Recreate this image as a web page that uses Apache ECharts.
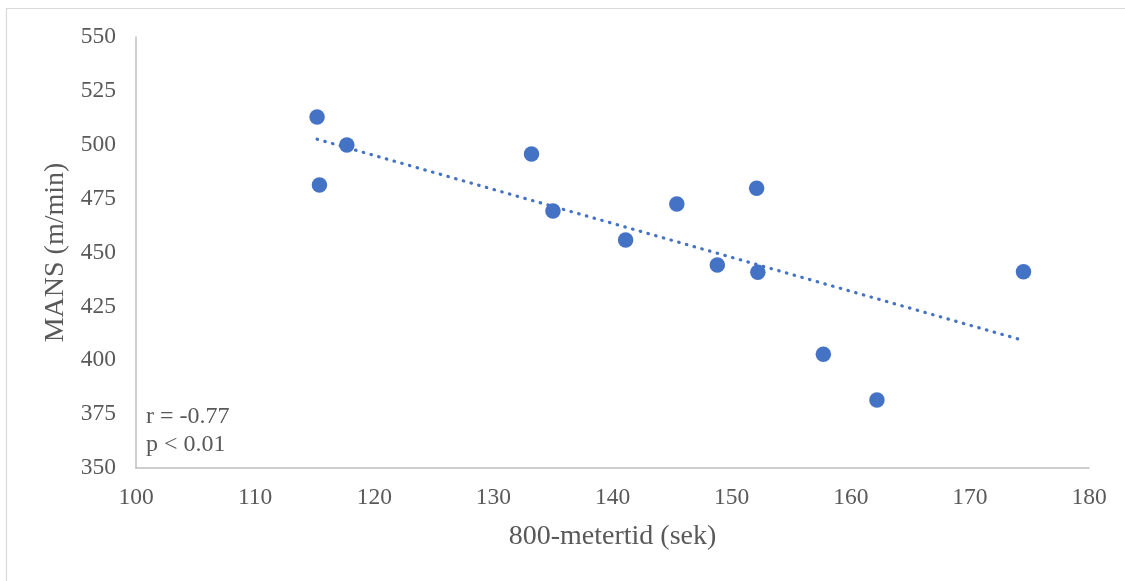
<!DOCTYPE html>
<html>
<head>
<meta charset="utf-8">
<script src="https://cdn.jsdelivr.net/npm/echarts@6/dist/echarts.min.js"></script>
<style>
  html, body { margin: 0; padding: 0; background: #fff; }
  #chart { width: 1125px; height: 581px; }
</style>
</head>
<body>
<div id="chart"></div>
<script>
// 800 m time (s) vs MANS (m/min)
const tid = [115.2, 117.7, 115.4, 133.2, 135.0, 141.1, 145.4, 148.8, 152.1, 152.2, 157.7, 162.2, 174.5];
const mans = [512.9, 499.9, 481.3, 495.7, 469.3, 455.8, 472.5, 444.2, 479.8, 440.8, 402.8, 381.6, 441.1];
const statsText = ["r = -0.77", "p < 0.01"];

const points = tid.map((x, i) => [x, mans[i]]);

// linear trendline (least squares), drawn across the data range
const n = tid.length;
const mx = tid.reduce((a, b) => a + b, 0) / n;
const my = mans.reduce((a, b) => a + b, 0) / n;
let sxy = 0, sxx = 0;
for (let i = 0; i < n; i++) {
  sxy += (tid[i] - mx) * (mans[i] - my);
  sxx += (tid[i] - mx) * (tid[i] - mx);
}
const slope = sxy / sxx;
const icpt = my - slope * mx;
const xMin = Math.min(...tid), xMax = Math.max(...tid);
const trend = [[xMin, icpt + slope * xMin], [xMax, icpt + slope * xMax]];

const chart = echarts.init(document.getElementById("chart"));
const font = "'Liberation Serif', 'Times New Roman', serif";

const option = {
  animation: false,
  backgroundColor: "#fff",
  grid: { left: 136, right: 36, top: 37, bottom: 113 },
  graphic: [
    {
      type: "polyline",
      shape: { points: [[6.5, 600], [6.5, 8.5], [1130, 8.5]] },
      style: { fill: null, stroke: "#d9d9d9", lineWidth: 1.2 }
    },
    {
      type: "text",
      left: 146,
      top: 402,
      style: {
        text: statsText.join("\n"),
        font: "24px " + font,
        lineHeight: 28.5,
        fill: "#595959"
      }
    }
  ],
  xAxis: {
    type: "value",
    min: 100,
    max: 180,
    interval: 10,
    name: "800-metertid (sek)",
    nameLocation: "middle",
    nameGap: 55,
    nameTextStyle: { fontFamily: font, fontSize: 28, color: "#595959" },
    axisLine: { show: true, lineStyle: { color: "#bfbfbf", width: 1.5 } },
    axisTick: { show: false },
    splitLine: { show: false },
    axisLabel: { fontFamily: font, fontSize: 23.5, color: "#595959", margin: 18 }
  },
  yAxis: {
    type: "value",
    min: 350,
    max: 550,
    interval: 25,
    name: "MANS (m/min)",
    nameLocation: "middle",
    nameGap: 64,
    nameTextStyle: { fontFamily: font, fontSize: 28, color: "#595959" },
    axisLine: { show: true, lineStyle: { color: "#bfbfbf", width: 1.5 } },
    axisTick: { show: false },
    splitLine: { show: false },
    axisLabel: { fontFamily: font, fontSize: 23.5, color: "#595959", margin: 20 }
  },
  series: [
    {
      type: "line",
      data: trend,
      symbol: "none",
      silent: true,
      lineStyle: { color: "#4472c4", width: 3.2, type: [0.5, 7.5], cap: "round" },
      z: 1
    },
    {
      type: "scatter",
      data: points,
      symbolSize: 15.5,
      itemStyle: { color: "#4472c4", opacity: 1 },
      z: 2
    }
  ]
};
chart.setOption(option);
</script>
</body>
</html>
